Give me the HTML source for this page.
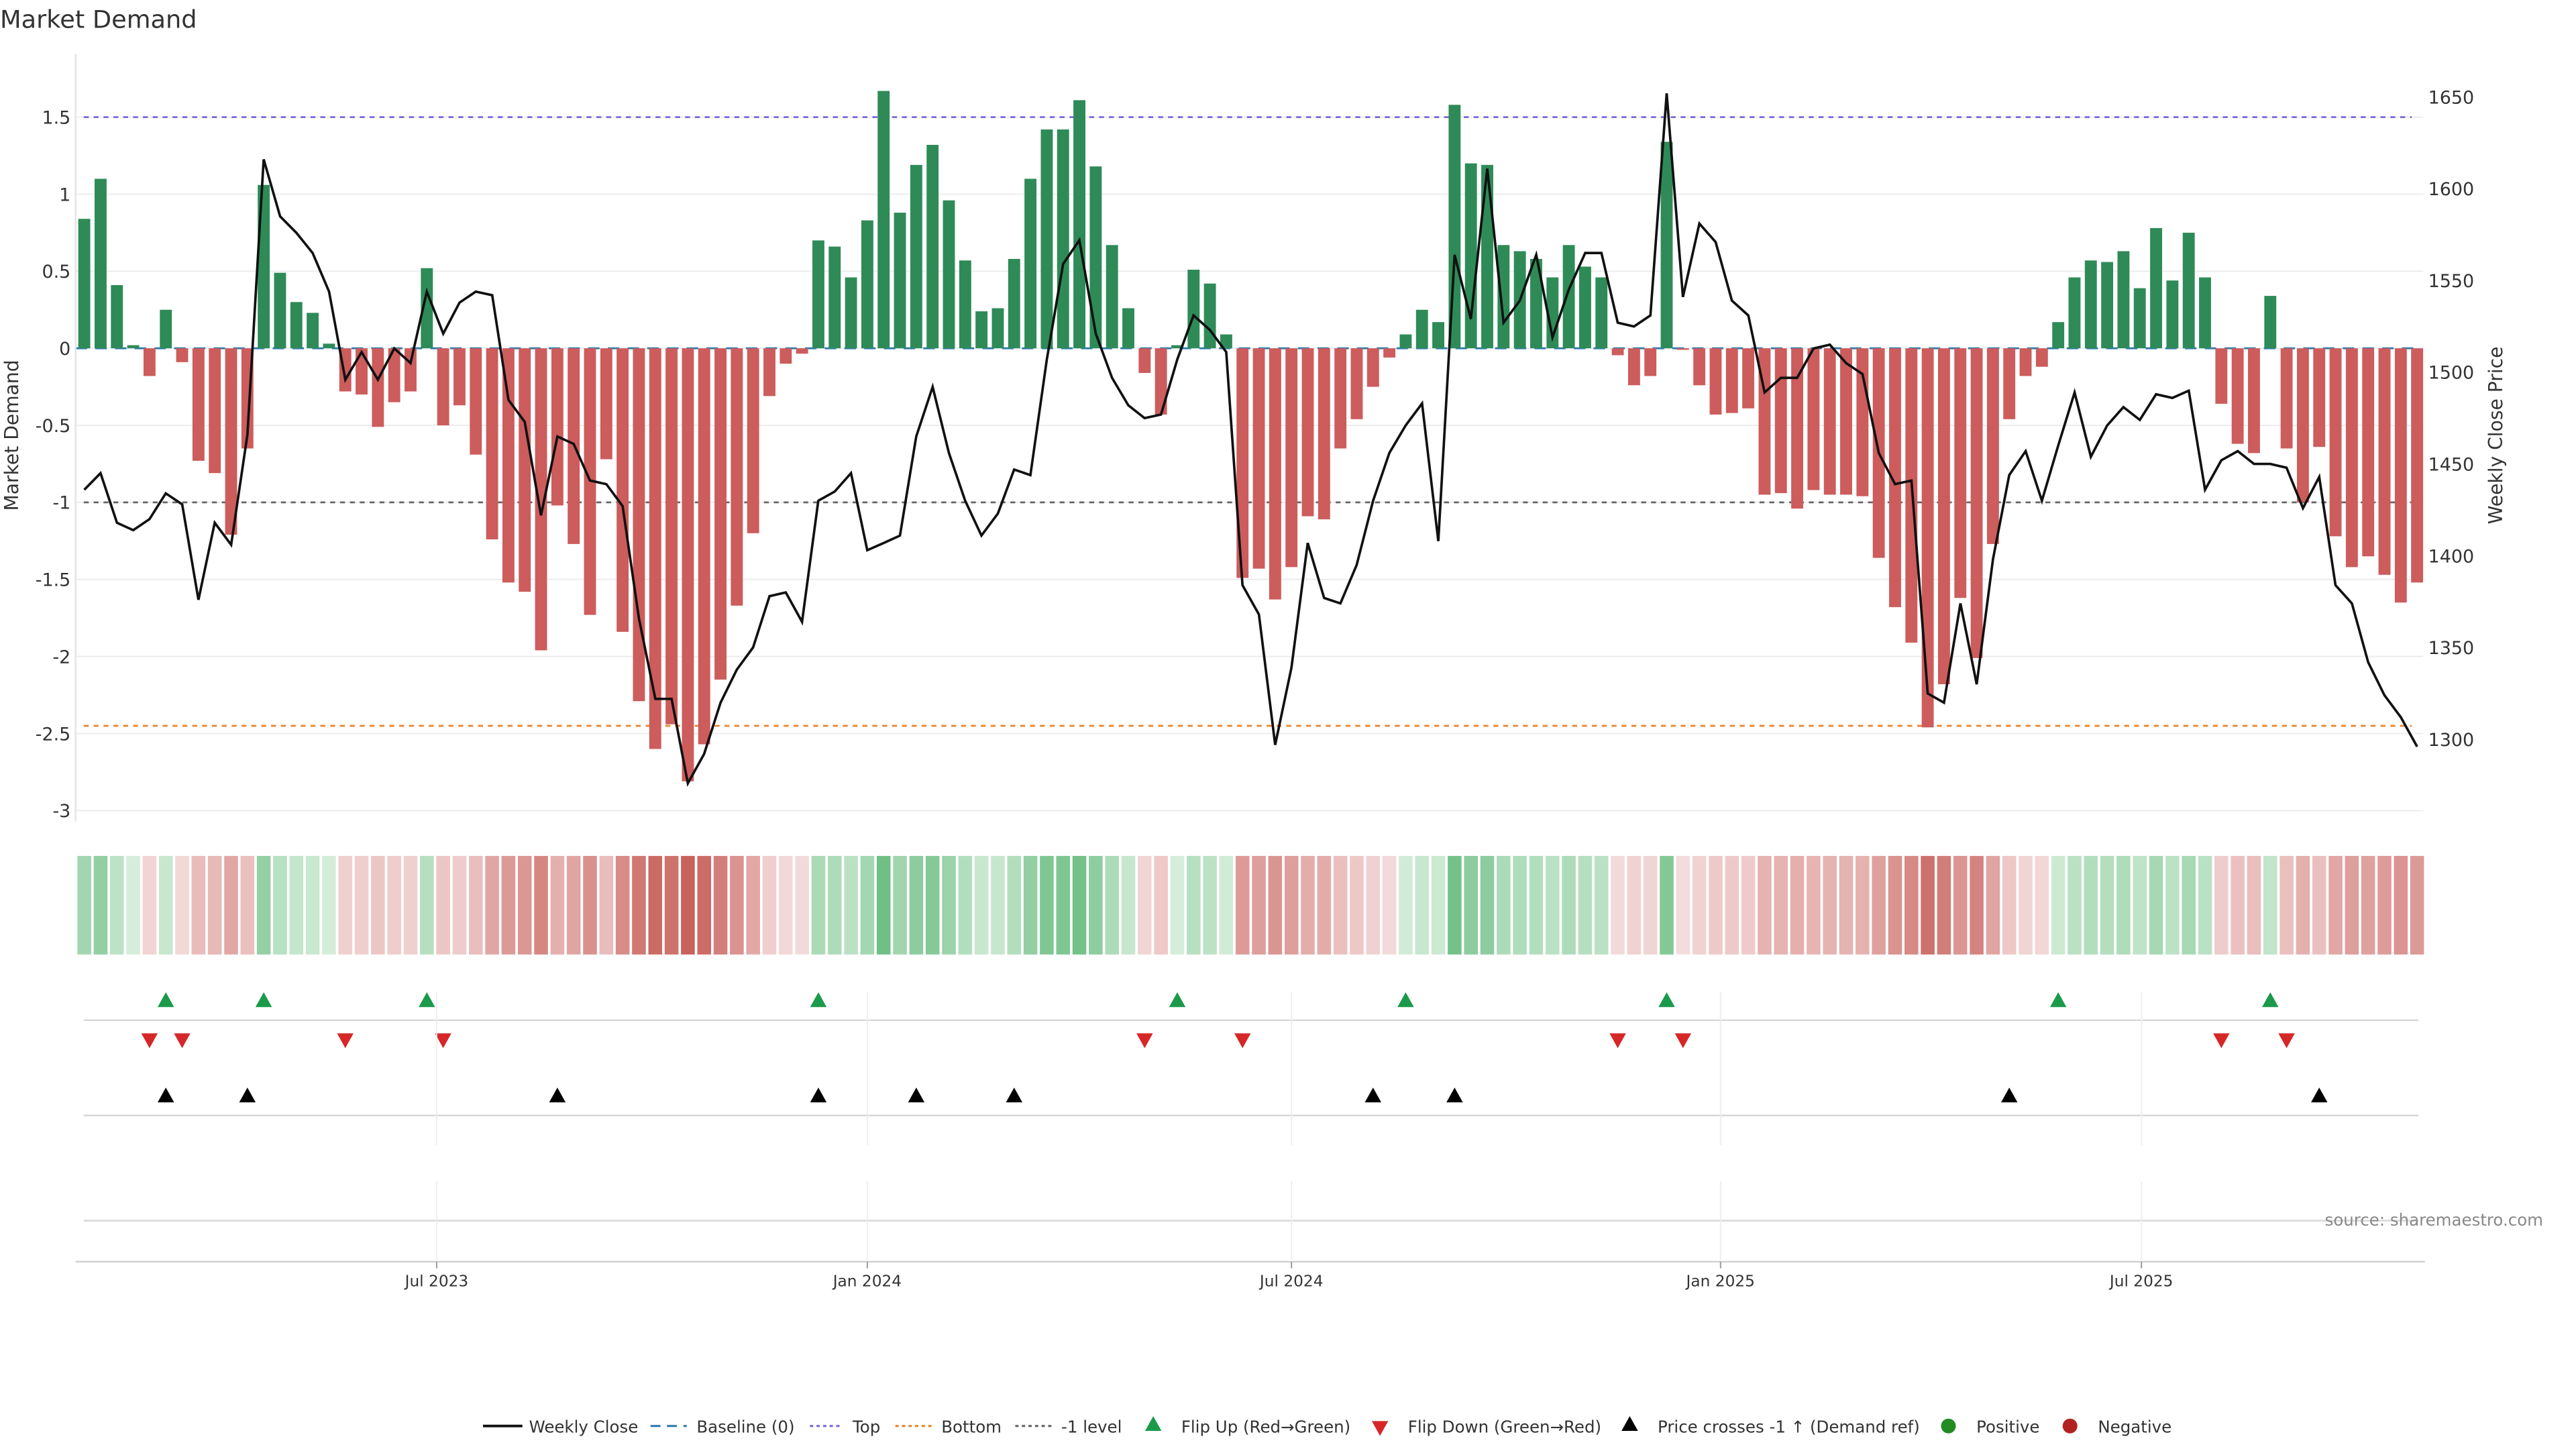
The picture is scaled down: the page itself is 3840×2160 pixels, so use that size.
<!DOCTYPE html>
<html><head><meta charset="utf-8"><title>Market Demand</title>
<style>
html,body{margin:0;padding:0;background:#fff;}
svg{display:block;font-family:"DejaVu Sans","Liberation Sans",sans-serif;}
</style></head>
<body>
<svg id="chart" width="3840" height="2160" viewBox="0 0 1568 882" xmlns="http://www.w3.org/2000/svg">
<text x="0" y="17" font-size="15" fill="#333">Market Demand</text>
<g id="grid"></g><g id="refs"></g><g id="bars"></g><g id="price"></g><g id="axes"></g>
<g id="heat"></g><g id="markers"></g><g id="lower"></g><g id="legend"></g>
<text x="1548" y="746" font-size="10" fill="#888" text-anchor="end">source: sharemaestro.com</text>
</svg>
<script>
const demandValues = [0.84,1.10,0.41,0.02,-0.18,0.25,-0.09,-0.73,-0.81,-1.21,-0.65,1.06,0.49,0.30,0.23,0.03,-0.28,-0.30,-0.51,-0.35,-0.28,0.52,-0.50,-0.37,-0.69,-1.24,-1.52,-1.58,-1.96,-1.02,-1.27,-1.73,-0.72,-1.84,-2.29,-2.60,-2.44,-2.81,-2.57,-2.15,-1.67,-1.20,-0.31,-0.10,-0.035,0.70,0.66,0.46,0.83,1.67,0.88,1.19,1.32,0.96,0.57,0.24,0.26,0.58,1.10,1.42,1.42,1.61,1.18,0.67,0.26,-0.16,-0.43,0.02,0.51,0.42,0.09,-1.49,-1.43,-1.63,-1.42,-1.09,-1.11,-0.65,-0.46,-0.25,-0.06,0.09,0.25,0.17,1.58,1.20,1.19,0.67,0.63,0.58,0.46,0.67,0.53,0.46,-0.045,-0.24,-0.18,1.34,-0.01,-0.24,-0.43,-0.42,-0.39,-0.95,-0.94,-1.04,-0.92,-0.95,-0.95,-0.96,-1.36,-1.68,-1.91,-2.46,-2.18,-1.62,-2.01,-1.27,-0.46,-0.18,-0.12,0.17,0.46,0.57,0.56,0.63,0.39,0.78,0.44,0.75,0.46,-0.36,-0.62,-0.68,0.34,-0.65,-1.0,-0.64,-1.22,-1.42,-1.35,-1.47,-1.65,-1.52];
const closePrices = [1436,1445,1418,1414,1420,1434,1428,1376,1418,1406,1466,1616,1585,1576,1565,1544,1496,1511,1496,1513,1505,1544,1521,1538,1544,1542,1485,1473,1422,1465,1461,1441,1439,1427,1366,1322,1322,1276,1292,1320,1338,1350,1378,1380,1364,1430,1435,1445,1403,1407,1411,1465,1492,1456,1430,1411,1423,1447,1444,1507,1559,1572,1521,1497,1482,1475,1477,1507,1531,1523,1511,1384,1368,1297,1339,1407,1377,1374,1395,1430,1456,1471,1483,1408,1564,1529,1611,1527,1539,1564,1519,1545,1565,1565,1527,1525,1531,1652,1541,1581,1571,1539,1531,1489,1497,1497,1513,1515,1505,1499,1456,1439,1441,1325,1320,1374,1330,1398,1444,1457,1430,1460,1489,1454,1471,1481,1474,1488,1486,1490,1436,1452,1457,1450,1450,1448,1426,1443,1384,1374,1342,1324,1312,1296];
const leftTicks = [1.5,1,0.5,0,-0.5,-1,-1.5,-2,-2.5,-3];
const leftTickLabels = ["1.5","1","0.5","0","-0.5","-1","-1.5","-2","-2.5","-3"];
const rightTicks = [1650,1600,1550,1500,1450,1400,1350,1300];
const dateTickIndex = [21.6,48,74,100.3,126.1];
const dateTickLabels = ["Jul 2023","Jan 2024","Jul 2024","Jan 2025","Jul 2025"];
const topLevel = 1.5, bottomLevel = -2.45, minusLevel = -1;

const NS = "http://www.w3.org/2000/svg";
const X0 = 51.3, STEP = 9.93, BW = 7.3;
function xs(i){ return X0 + i*STEP; }
function yL(v){ return 212 - v*93.8; }
function yR(p){ return 450 - (p-1300)*1.117; }
function el(tag, attrs, parent){ const e=document.createElementNS(NS,tag); for(const k in attrs) e.setAttribute(k,attrs[k]); parent.appendChild(e); return e; }
const g = id => document.getElementById(id);

leftTicks.forEach((t,i)=>{
  const ln = el('line',{x1:46,x2:1475,y1:yL(t),y2:yL(t),stroke:'#ececf0','stroke-width':0.8},g('grid'));
  
  
  const tx = el('text',{x:43,y:yL(t)+4,'font-size':11,fill:'#333','text-anchor':'end'},g('axes'));
  tx.textContent = leftTickLabels[i];
  
  
});
rightTicks.forEach(p=>{
  const tx = el('text',{x:1478,y:yR(p)+4,'font-size':11,fill:'#333'},g('axes'));
  tx.textContent = p;
  
  
});
const axl = el('line',{x1:46,x2:46,y1:33,y2:500,stroke:'#e4e4ea','stroke-width':1},g('axes'));


const yt = el('text',{x:0,y:0,'font-size':11.5,fill:'#333','text-anchor':'middle',transform:'translate(11,265) rotate(-90)'},g('axes'));
yt.textContent='Market Demand';


const yt2 = el('text',{x:0,y:0,'font-size':11.5,fill:'#333','text-anchor':'middle',transform:'translate(1523,265) rotate(-90)'},g('axes'));
yt2.textContent='Weekly Close Price';



function refLine(v,color,dash,name){
  const l = el('line',{x1:51,x2:1468,y1:yL(v),y2:yL(v),stroke:color,'stroke-width':1.1,'stroke-dasharray':dash},g('refs'));
  
  
}
refLine(topLevel,'#7b68d6','3 3','top-line');
refLine(bottomLevel,'#e8842c','3 3','bottom-line');
refLine(minusLevel,'#666','3 3','minus-one-line');

demandValues.forEach((v,i)=>{
  const y0=yL(0), y1=yL(v);
  const r = el('rect',{x:xs(i)-BW/2,y:Math.min(y0,y1),width:BW,height:Math.max(Math.abs(y1-y0),0.3),fill:v>=0?'#2e8b57':'#cd5c5c'},g('bars'));
  
  
});
const base = el('line',{x1:46,x2:1472,y1:yL(0),y2:yL(0),stroke:'#2f7bb0','stroke-width':1.2,'stroke-dasharray':'7 5'},g('refs'));



const pts = closePrices.map((p,i)=>xs(i).toFixed(1)+','+yR(p).toFixed(1)).join(' ');
const pl = el('polyline',{points:pts,fill:'none',stroke:'#111','stroke-width':1.5,'stroke-linejoin':'miter'},g('price'));



function mix(a,b,t){ return 'rgb('+a.map((c,k)=>Math.round(c+(b[k]-c)*t)).join(',')+')'; }
demandValues.forEach((v,i)=>{
  let c;
  if(v>0) c = mix([214,238,219],[110,190,132],Math.min(v/1.7,1));
  else c = mix([244,220,220],[200,98,92],Math.min(-v/2.8,1));
  const r = el('rect',{x:xs(i)-4.2,y:521,width:8.4,height:60,fill:c},g('heat'));
  
  
});

[[621,51,1472],[679,51,1472],[743,51,1472]].forEach(a=>{
  const l = el('line',{x1:a[1],x2:a[2],y1:a[0],y2:a[0],stroke:'#d8d8d8','stroke-width':1},g('lower'));
  
  
});
const xa = el('line',{x1:46,x2:1476,y1:768,y2:768,stroke:'#d0d0d0','stroke-width':1},g('lower'));


dateTickIndex.forEach((d,i)=>{
  const x = xs(d);
  [[604,697],[719,767]].forEach(s=>{
    const v = el('line',{x1:x,x2:x,y1:s[0],y2:s[1],stroke:'#eeeeee','stroke-width':0.8},g('lower'));
    
    
  });
  const t = el('line',{x1:x,x2:x,y1:768,y2:772,stroke:'#999','stroke-width':0.8},g('lower'));
  
  
  const tx = el('text',{x:x,y:783,'font-size':9.5,fill:'#333','text-anchor':'middle'},g('lower'));
  tx.textContent = dateTickLabels[i];
  
  
});

function tri(x,y,up,color,name,parent){
  const s=5;
  const p = up ? `${x},${y-s} ${x-s},${y+s*0.8} ${x+s},${y+s*0.8}` : `${x},${y+s} ${x-s},${y-s*0.8} ${x+s},${y-s*0.8}`;
  const t = el('polygon',{points:p,fill:color},parent);
  
  
}
const minusPrice = 1428.4;
for(let i=1;i<demandValues.length;i++){
  if(demandValues[i]>0 && demandValues[i-1]<=0) tri(xs(i),609,true,'#1a9a4a','flip-up-marker',g('markers'));
  if(demandValues[i]<0 && demandValues[i-1]>=0) tri(xs(i),633,false,'#d62728','flip-down-marker',g('markers'));
  if(closePrices[i-1]<minusPrice && closePrices[i]>=minusPrice) tri(xs(i),667,true,'#000','price-cross-marker',g('markers'));
}

const L = g('legend'); const LY=868;
function ltext(x,s,name){ const t=el('text',{x:x,y:LY+4,'font-size':10,fill:'#333'},L); t.textContent=s;   }
function lline(x1,x2,color,dash,w,name){ const l=el('line',{x1:x1,x2:x2,y1:LY,y2:LY,stroke:color,'stroke-width':w,'stroke-dasharray':dash},L);   }
lline(294,318,'#111','none',1.6,'legend-weekly-close-swatch'); ltext(322,'Weekly Close','legend-weekly-close');
lline(396,418,'#2f7bb0','6 4',1.3,'legend-baseline-swatch'); ltext(424,'Baseline (0)','legend-baseline');
lline(493,513,'#7b68d6','2 2',1.3,'legend-top-swatch'); ltext(519,'Top','legend-top');
lline(545,567,'#e8842c','2 2',1.3,'legend-bottom-swatch'); ltext(573,'Bottom','legend-bottom');
lline(618,640,'#666','2 2',1.3,'legend-minus-one-swatch'); ltext(646,'-1 level','legend-minus-one');
tri(702,LY-1,true,'#1a9a4a','legend-flip-up-swatch',L); ltext(719,'Flip Up (Red\u2192Green)','legend-flip-up');
tri(840,LY+1,false,'#d62728','legend-flip-down-swatch',L); ltext(857,'Flip Down (Green\u2192Red)','legend-flip-down');
tri(992,LY-1,true,'#000','legend-price-cross-swatch',L); ltext(1009,'Price crosses -1 \u2191 (Demand ref)','legend-price-cross');
const c1=el('circle',{cx:1186,cy:LY,r:4.5,fill:'#228b22'},L);  
ltext(1203,'Positive','legend-positive');
const c2=el('circle',{cx:1260,cy:LY,r:4.5,fill:'#b22222'},L);  
ltext(1277,'Negative','legend-negative');
</script>
</body></html>
